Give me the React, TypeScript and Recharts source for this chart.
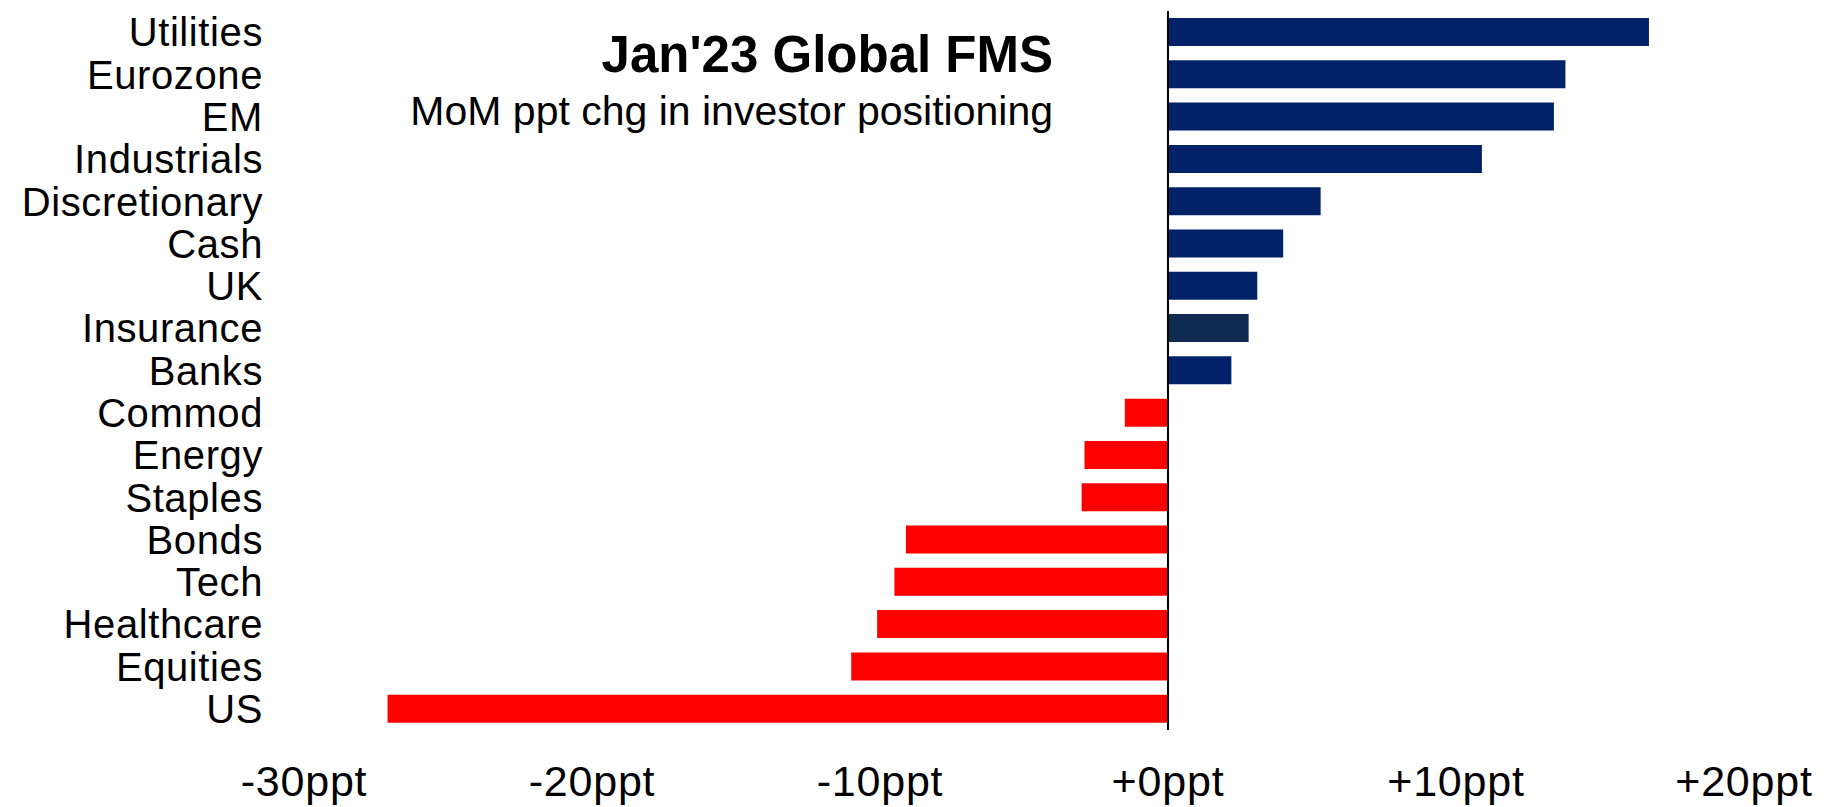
import { BarChart, Bar, XAxis, YAxis, Cell, ReferenceLine } from 'recharts'

const categories = [
  'Utilities',
  'Eurozone',
  'EM',
  'Industrials',
  'Discretionary',
  'Cash',
  'UK',
  'Insurance',
  'Banks',
  'Commod',
  'Energy',
  'Staples',
  'Bonds',
  'Tech',
  'Healthcare',
  'Equities',
  'US',
]

const changes = [16.7, 13.8, 13.4, 10.9, 5.3, 4.0, 3.1, 2.8, 2.2, -1.5, -2.9, -3.0, -9.1, -9.5, -10.1, -11.0, -27.1]

const xTicks = [-30, -20, -10, 0, 10, 20]

const title = "Jan'23 Global FMS"
const subtitle = 'MoM ppt chg in investor positioning'

const data = categories.map((name, i) => ({ name, value: changes[i] }))

const FONT = '"Liberation Sans", Arial, sans-serif'

function barColor(name: string, v: number) {
  if (v < 0) return '#FF0000'
  if (name === 'Insurance') return '#0E2A50'
  return '#012169'
}

export default function App() {
  return (
    <div style={{ position: 'relative', width: 1824, height: 807, background: '#fff' }}>
      <style>{'body{margin:0}'}</style>
      <BarChart
        width={1824}
        height={807}
        data={data}
        layout="vertical"
        margin={{ top: 11, right: 80, left: 0, bottom: 0 }}
        barSize={28}
      >
        <XAxis
          type="number"
          domain={[-30, 20]}
          ticks={xTicks}
          axisLine={false}
          tickLine={false}
          height={77}
          tickMargin={29}
          tick={{ fill: '#000', fontSize: 43, fontFamily: FONT, letterSpacing: 0.8 }}
          tickFormatter={(v) => (v < 0 ? `${v}ppt` : `+${v}ppt`)}
        />
        <YAxis
          type="category"
          dataKey="name"
          width={304}
          axisLine={false}
          tickLine={false}
          tickMargin={35}
          interval={0}
          tick={{ fill: '#000', fontSize: 40, fontFamily: FONT, letterSpacing: 0.6 }}
        />
        <Bar dataKey="value" isAnimationActive={false}>
          {data.map((d) => (
            <Cell key={d.name} fill={barColor(d.name, d.value)} />
          ))}
        </Bar>
        <ReferenceLine x={0} stroke="#000" strokeWidth={2} />
      </BarChart>
      <div
        style={{
          position: 'absolute',
          right: 1824 - 1053,
          top: 29,
          fontFamily: FONT,
          fontWeight: 'bold',
          fontSize: 51,
          lineHeight: '51px',
          whiteSpace: 'nowrap',
          color: '#000',
        }}
      >
        {title}
      </div>
      <div
        style={{
          position: 'absolute',
          right: 1824 - 1053,
          top: 91,
          fontFamily: FONT,
          fontSize: 41,
          lineHeight: '41px',
          whiteSpace: 'nowrap',
          color: '#000',
        }}
      >
        {subtitle}
      </div>
    </div>
  )
}
